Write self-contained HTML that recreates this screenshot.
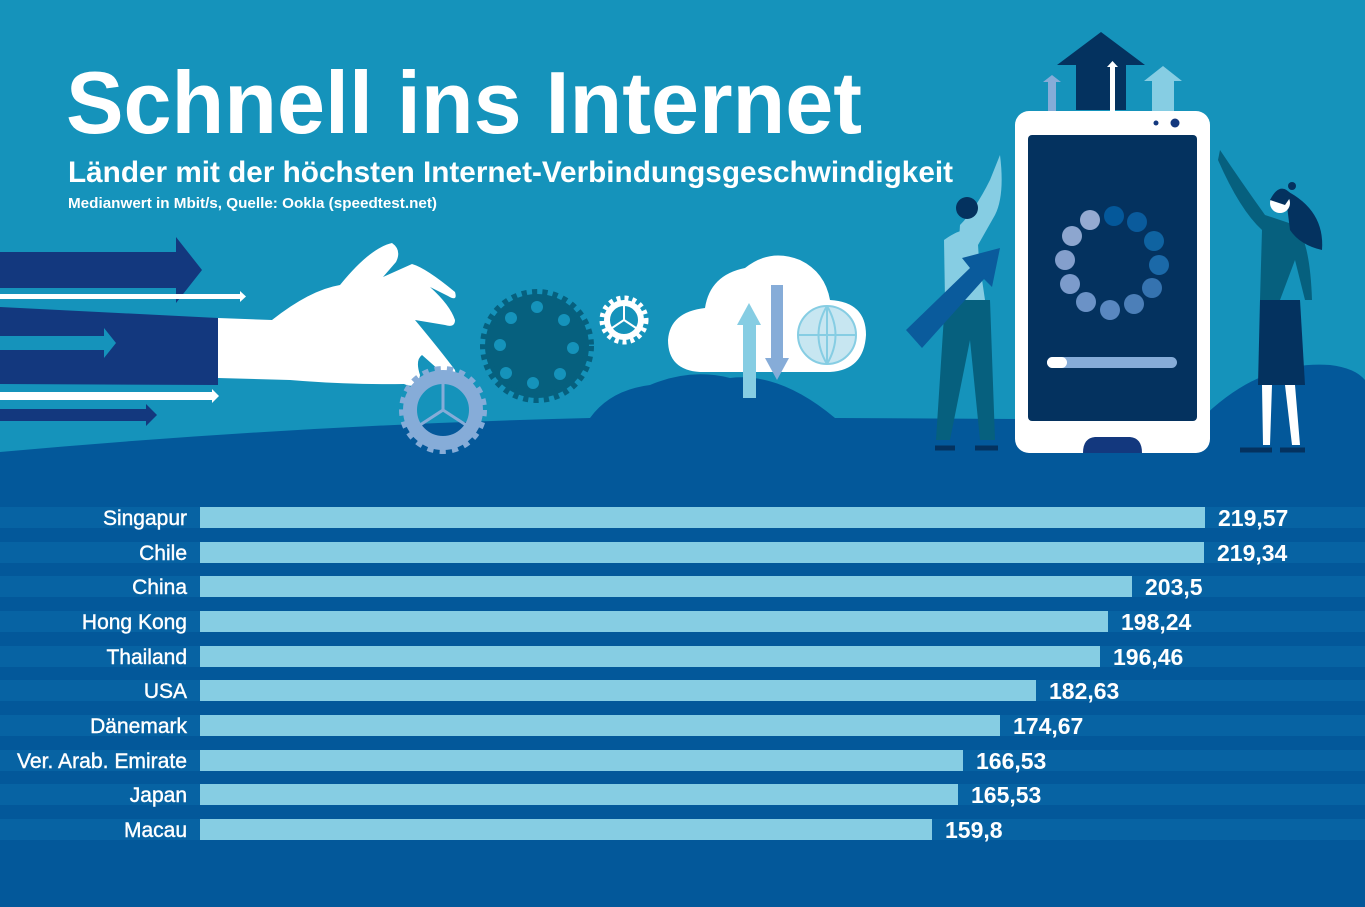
<!DOCTYPE html>
<html><head><meta charset="utf-8"><style>
html,body{margin:0;padding:0;background:#1593bb}
svg{display:block}
text{font-family:"Liberation Sans",sans-serif}
</style></head><body>
<svg width="1365" height="907" viewBox="0 0 1365 907" xmlns="http://www.w3.org/2000/svg">
<rect width="1365" height="907" fill="#1593bb"/>
<!-- ground -->
<path d="M0 452 Q300 425 590 418 Q610 390 650 385 Q690 368 730 378 Q780 372 835 418 L1200 420 Q1260 360 1330 365 Q1355 368 1365 380 L1365 907 L0 907Z" fill="#03589a"/>
<!-- left arrows -->
<path d="M0 252 H176 V237 L202 270 L176 303 V288 H0Z" fill="#13387e"/>
<rect x="0" y="294" width="240" height="5" fill="#fff"/><path d="M240 291 L246 296.5 L240 302Z" fill="#fff"/>
<path d="M0 307 L218 318 V385 L0 384Z" fill="#13387e"/>
<path d="M0 336 H104 V328 L116 343 L104 358 V350 H0Z" fill="#1593bb"/>
<rect x="0" y="392" width="212" height="8" fill="#fff"/><path d="M212 389 L219 396 L212 403Z" fill="#fff"/>
<path d="M0 409 H146 V404 L157 415 L146 426 V421 H0Z" fill="#13387e"/>
<!-- hand -->
<path d="M218 318 L272 320 Q310 290 340 285 Q370 248 392 243 Q402 250 396 262 L383 277 L412 264 Q426 268 455 292 Q458 302 448 296 L430 287 Q450 305 455 320 Q455 328 445 325 L415 320 Q440 350 455 370 Q458 382 448 378 L422 355 Q415 360 420 375 Q418 390 404 384 Q350 385 290 380 L218 378Z" fill="#fff"/>
<!-- gears -->
<circle cx="537" cy="346" r="52" fill="#06607e" stroke="#06607e" stroke-width="10" stroke-dasharray="5 5"/>
<g fill="#1593bb"><circle cx="537" cy="307" r="6"/><circle cx="564" cy="320" r="6"/><circle cx="573" cy="348" r="6"/><circle cx="560" cy="374" r="6"/><circle cx="533" cy="383" r="6"/><circle cx="506" cy="373" r="6"/><circle cx="500" cy="345" r="6"/><circle cx="511" cy="318" r="6"/></g>
<circle cx="443" cy="410" r="33" fill="none" stroke="#86acd8" stroke-width="14"/>
<circle cx="443" cy="410" r="40" fill="none" stroke="#86acd8" stroke-width="8" stroke-dasharray="6 6"/>
<path d="M443 383 V410 L420 425 M443 410 L466 425" stroke="#86acd8" stroke-width="3" fill="none"/>
<circle cx="624" cy="320" r="17" fill="none" stroke="#fff" stroke-width="6"/>
<circle cx="624" cy="320" r="22" fill="none" stroke="#fff" stroke-width="5" stroke-dasharray="4 4"/>
<path d="M624 305 V320 L612 328 M624 320 L636 328" stroke="#fff" stroke-width="2" fill="none"/>
<!-- cloud -->
<path d="M700 372 Q668 370 668 340 Q670 312 705 308 Q710 275 745 268 Q770 248 800 260 Q825 272 830 300 Q866 302 866 335 Q864 370 830 372Z" fill="#fff"/>
<rect x="743" y="325" width="13" height="73" fill="#86cde3"/><path d="M737 325 L749 303 L761 325Z" fill="#86cde3"/>
<rect x="771" y="285" width="12" height="75" fill="#86acd8"/><path d="M765 358 L777 380 L789 358Z" fill="#86acd8"/>
<circle cx="827" cy="335" r="29" fill="#c7e6f1" stroke="#86cde3" stroke-width="2"/>
<path d="M798 335 H856 M827 306 V364 M827 306 Q810 335 827 364 M827 306 Q844 335 827 364" stroke="#86cde3" stroke-width="2" fill="none"/>
<!-- phone arrows -->
<path d="M1057 65 L1101 32 L1145 65 H1126 V110 H1076 V65Z" fill="#04325f"/>
<rect x="1110" y="66" width="5" height="45" fill="#fff"/><path d="M1107 67 L1112.5 61 L1118 67Z" fill="#fff"/>
<path d="M1043 82 L1052 75 L1061 82 H1056 V111 H1048 V82Z" fill="#86acd8"/>
<path d="M1144 81 L1163 66 L1182 81 H1174 V111 H1152 V81Z" fill="#86cde3"/>
<!-- phone -->
<rect x="1015" y="111" width="195" height="342" rx="14" fill="#fff"/>
<rect x="1028" y="135" width="169" height="286" rx="4" fill="#04325f"/>
<circle cx="1156" cy="123" r="2.5" fill="#13387e"/><circle cx="1175" cy="123" r="4.5" fill="#13387e"/>
<path d="M1083 453 Q1083 438 1095 437 H1130 Q1142 438 1142 453Z" fill="#13387e"/>
<g><circle cx="1114" cy="216" r="10" fill="#04589a"/><circle cx="1137" cy="222" r="10" fill="#0a5b9c"/><circle cx="1154" cy="241" r="10" fill="#0f63a1"/><circle cx="1159" cy="265" r="10" fill="#1b69a8"/><circle cx="1152" cy="288" r="10" fill="#3573b0"/><circle cx="1134" cy="304" r="10" fill="#4c7fb8"/><circle cx="1110" cy="310" r="10" fill="#5987c0"/><circle cx="1086" cy="302" r="10" fill="#6b92c6"/><circle cx="1070" cy="284" r="10" fill="#7c9bcb"/><circle cx="1065" cy="260" r="10" fill="#849fcc"/><circle cx="1072" cy="236" r="10" fill="#8da6cf"/><circle cx="1090" cy="220" r="10" fill="#95aad1"/></g>
<rect x="1047" y="357" width="130" height="11" rx="5.5" fill="#86acd8"/><rect x="1047" y="357" width="20" height="11" rx="5.5" fill="#fff"/>
<!-- man -->
<path d="M1000 155 Q1005 195 995 215 L978 245 L980 275 L965 285 L958 255 L960 225 Q975 210 990 180Z" fill="#86cde3"/>
<path d="M944 240 Q965 225 975 232 L985 300 L945 300Z" fill="#86cde3"/>
<path d="M945 300 H990 L995 440 H980 L970 340 L950 440 H936Z" fill="#06607e"/>
<circle cx="967" cy="208" r="11" fill="#04325f"/>
<path d="M906 330 L970 268 L962 258 L1000 248 L992 287 L984 279 L922 348Z" fill="#0a5b9c"/>
<path d="M935 448 L955 448 M975 448 L998 448" stroke="#04325f" stroke-width="5"/>
<!-- woman -->
<path d="M1220 150 Q1240 180 1265 215 L1295 225 Q1310 240 1312 300 L1305 300 L1295 260 L1280 300 L1260 300 L1262 230 Q1240 210 1218 160Z" fill="#06607e"/>
<path d="M1285 190 Q1325 210 1322 250 Q1300 245 1290 230Z" fill="#04325f"/>
<circle cx="1280" cy="203" r="10" fill="#fff"/><path d="M1270 200 Q1280 180 1292 195 L1285 205Z" fill="#04325f"/><circle cx="1292" cy="186" r="4" fill="#04325f"/>
<path d="M1260 300 H1300 L1305 385 H1258Z" fill="#04325f"/>
<path d="M1262 385 H1272 L1270 445 H1263Z M1285 385 H1295 L1300 445 H1292Z" fill="#fff"/>
<path d="M1240 450 H1272 M1280 450 H1305" stroke="#04325f" stroke-width="5"/>
<!-- titles -->
<text x="66" y="133" font-size="88" font-weight="bold" fill="#fff" textLength="796" lengthAdjust="spacingAndGlyphs">Schnell ins Internet</text>
<text x="68" y="182" font-size="30" font-weight="bold" fill="#fff" textLength="885" lengthAdjust="spacingAndGlyphs">Länder mit der höchsten Internet-Verbindungsgeschwindigkeit</text>
<text x="68" y="208" font-size="15" font-weight="bold" fill="#fff" textLength="369" lengthAdjust="spacingAndGlyphs">Medianwert in Mbit/s, Quelle: Ookla (speedtest.net)</text>
<!-- bars -->
<g font-size="21" fill="#fff">
<rect x="0" y="507" width="1365" height="21" fill="#0763a3"/>
<rect x="0" y="542" width="1365" height="21" fill="#0763a3"/>
<rect x="0" y="576" width="1365" height="21" fill="#0763a3"/>
<rect x="0" y="611" width="1365" height="21" fill="#0763a3"/>
<rect x="0" y="646" width="1365" height="21" fill="#0763a3"/>
<rect x="0" y="680" width="1365" height="21" fill="#0763a3"/>
<rect x="0" y="715" width="1365" height="21" fill="#0763a3"/>
<rect x="0" y="750" width="1365" height="21" fill="#0763a3"/>
<rect x="0" y="784" width="1365" height="21" fill="#0763a3"/>
<rect x="0" y="819" width="1365" height="21" fill="#0763a3"/>
<g fill="#86cde3">
<rect x="200" y="507" width="1005" height="21"/>
<rect x="200" y="542" width="1004" height="21"/>
<rect x="200" y="576" width="932" height="21"/>
<rect x="200" y="611" width="908" height="21"/>
<rect x="200" y="646" width="900" height="21"/>
<rect x="200" y="680" width="836" height="21"/>
<rect x="200" y="715" width="800" height="21"/>
<rect x="200" y="750" width="763" height="21"/>
<rect x="200" y="784" width="758" height="21"/>
<rect x="200" y="819" width="732" height="21"/>
</g>
<g text-anchor="end" stroke="#fff" stroke-width="0.4">
<text x="187" y="525">Singapur</text><text x="187" y="560">Chile</text><text x="187" y="594">China</text><text x="187" y="629">Hong Kong</text><text x="187" y="664">Thailand</text><text x="187" y="698">USA</text><text x="187" y="733">Dänemark</text><text x="187" y="768" textLength="170" lengthAdjust="spacingAndGlyphs">Ver. Arab. Emirate</text><text x="187" y="802">Japan</text><text x="187" y="837">Macau</text>
</g>
<g font-size="23" font-weight="bold">
<text x="1218" y="526">219,57</text><text x="1217" y="561">219,34</text><text x="1145" y="595">203,5</text><text x="1121" y="630">198,24</text><text x="1113" y="665">196,46</text><text x="1049" y="699">182,63</text><text x="1013" y="734">174,67</text><text x="976" y="769">166,53</text><text x="971" y="803">165,53</text><text x="945" y="838">159,8</text>
</g>
</g>
</svg>
</body></html>
